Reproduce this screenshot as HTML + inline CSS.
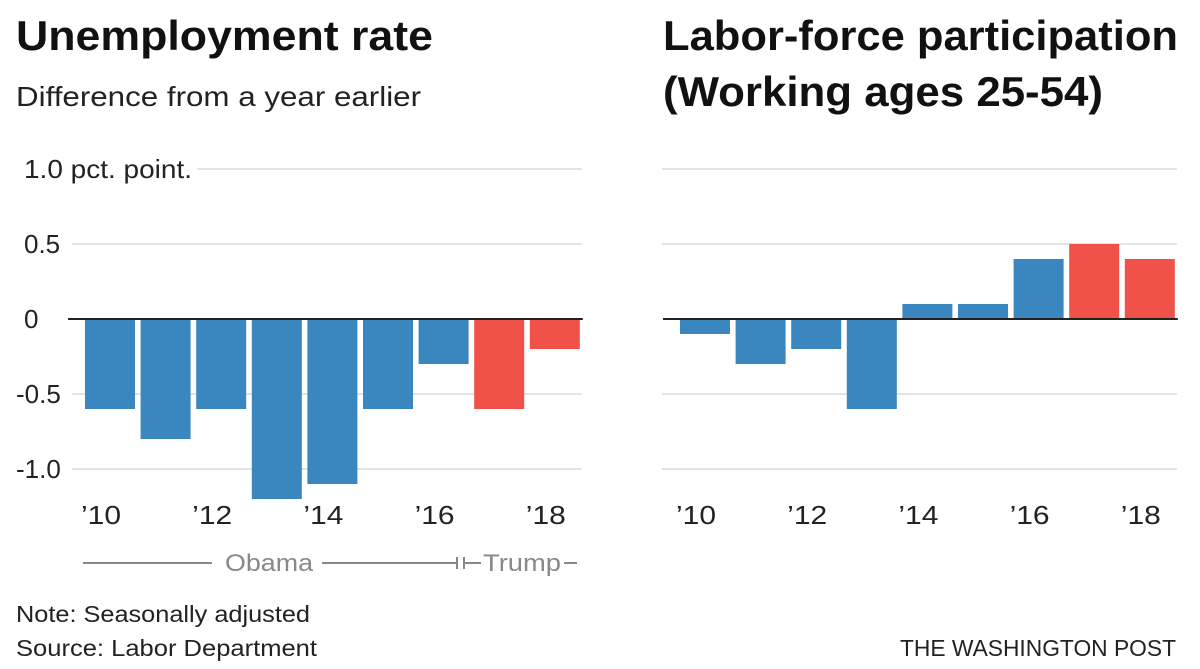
<!DOCTYPE html>
<html><head><meta charset="utf-8"><style>
body{margin:0;background:#fff;}
svg{display:block;font-family:"Liberation Sans",sans-serif;}
</style></head><body>
<svg id="c" width="1200" height="669" viewBox="0 0 1200 669">
<text x="16" y="50" font-size="42" font-weight="bold" fill="#111" textLength="417" lengthAdjust="spacingAndGlyphs">Unemployment rate</text>
<text x="16" y="106" font-size="28" fill="#222" textLength="405" lengthAdjust="spacingAndGlyphs">Difference from a year earlier</text>
<text x="663" y="50" font-size="42" font-weight="bold" fill="#111" textLength="515" lengthAdjust="spacingAndGlyphs">Labor-force participation</text>
<text x="663" y="106" font-size="42" font-weight="bold" fill="#111" textLength="440" lengthAdjust="spacingAndGlyphs">(Working ages 25-54)</text>
<g id="left"></g>
<g id="right"></g>
<g fill="#888" stroke="#888">
<line x1="83" y1="563" x2="212" y2="563" stroke-width="2"/>
<text x="225" y="571" font-size="24" stroke="none" textLength="88" lengthAdjust="spacingAndGlyphs">Obama</text>
<line x1="322" y1="563" x2="457" y2="563" stroke-width="2"/>
<line x1="457" y1="557" x2="457" y2="569" stroke-width="2"/>
<line x1="464" y1="557" x2="464" y2="569" stroke-width="2"/>
<line x1="464" y1="563" x2="481" y2="563" stroke-width="2"/>
<text x="483" y="571" font-size="24" stroke="none" textLength="78" lengthAdjust="spacingAndGlyphs">Trump</text>
<line x1="564" y1="563" x2="577" y2="563" stroke-width="2"/>
</g>
<text x="16" y="622" font-size="23" fill="#222" textLength="294" lengthAdjust="spacingAndGlyphs">Note: Seasonally adjusted</text>
<text x="16" y="656" font-size="23" fill="#222" textLength="301" lengthAdjust="spacingAndGlyphs">Source: Labor Department</text>
<text x="900" y="656" font-size="23" fill="#222" textLength="276" lengthAdjust="spacingAndGlyphs">THE WASHINGTON POST</text>
</svg>
<script>
const years = ["2010","2011","2012","2013","2014","2015","2016","2017","2018"];
const tickLabels = ["’10","’12","’14","’16","’18"];
const unemployment = [-0.6,-0.8,-0.6,-1.2,-1.1,-0.6,-0.3,-0.6,-0.2];
const participation = [-0.1,-0.3,-0.2,-0.6,0.1,0.1,0.4,0.5,0.4];
const presidents = ["obama","obama","obama","obama","obama","obama","obama","trump","trump"];
const yTicks = [1.0,0.5,0,-0.5,-1.0];
const NS="http://www.w3.org/2000/svg";
function y(v){return 319 - v*150;}
function mk(tag,attrs,parent){const e=document.createElementNS(NS,tag);for(const k in attrs)e.setAttribute(k,attrs[k]);parent.appendChild(e);return e;}
function draw(gid, x0, vals, showLabels){
  const g=document.getElementById(gid);
  const step=55.6, bw=50;
  function x(i){return x0+i*step;}
  yTicks.forEach(t=>{
    if(t===0) return;
    let start = showLabels ? (t===1?197:72) : x0-18;
    const l=mk('line',{x1:start,y1:y(t),x2:x0+8*step+bw+2,y2:y(t),stroke:'#e3e3e3','stroke-width':2},g);
    
    
    if(showLabels){
      const lab = t===1?'1.0 pct. point.':(t===0.5?'0.5':(t===-0.5?'-0.5':'-1.0'));
      const tx=mk('text',{x:(t<0?16:24),y:y(t)+9,'font-size':26,fill:'#222'},g);
      tx.textContent = lab;
      if(t===1){tx.setAttribute('textLength',168);tx.setAttribute('lengthAdjust','spacingAndGlyphs');}
      
      
    }
  });
  if(showLabels){const z=mk('text',{x:24,y:328,'font-size':26,fill:'#222'},g);z.textContent='0';
    
    }
  vals.forEach((v,i)=>{
    const r=mk('rect',{x:x(i),y:Math.min(y(v),y(0)),width:bw,height:Math.abs(y(v)-y(0)),fill:presidents[i]==='trump'?'#f0524a':'#3a87c0'},g);
    
    
  });
  const z=mk('line',{x1:x0-17,y1:y(0),x2:x0+8*step+bw+3,y2:y(0),stroke:'#222','stroke-width':2},g);
  
  
  tickLabels.forEach((lab,k)=>{
    const t=mk('text',{x:x(k*2)-4,y:524,'font-size':26,fill:'#222',textLength:40,lengthAdjust:'spacingAndGlyphs'},g);
    t.textContent=lab;
    
    
  });
}
draw('left',85,unemployment,true);
draw('right',680,participation,false);
</script>
</body></html>
